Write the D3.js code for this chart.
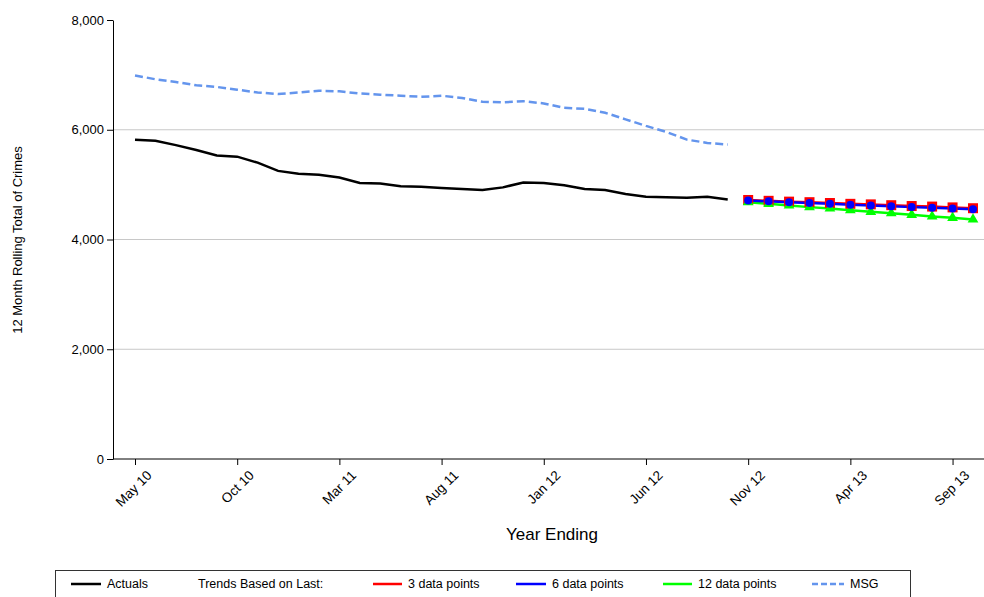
<!DOCTYPE html>
<html><head><meta charset="utf-8">
<script src="https://cdn.jsdelivr.net/npm/d3@7"></script>
<style>body{margin:0;background:#fff}svg{font-family:"Liberation Sans",Arial,sans-serif}</style>
</head><body>
<svg id="c" width="984" height="597"></svg>
<script>
let tickLabels = ["May 10","Oct 10","Mar 11","Aug 11","Jan 12","Jun 12","Nov 12","Apr 13","Sep 13"];
let actuals = [5820,5800,5720,5630,5530,5510,5400,5250,5200,5180,5130,5030,5020,4970,4960,4940,4920,4900,4950,5040,5030,4990,4920,4900,4830,4780,4770,4760,4780,4730];
let msg = [6990,6920,6870,6810,6780,6730,6680,6650,6680,6710,6700,6660,6640,6620,6600,6620,6580,6510,6500,6520,6480,6400,6380,6310,6190,6070,5960,5820,5760,5730];
let trend3 = [4720,4705,4690,4680,4665,4650,4640,4625,4610,4600,4585,4570];
let trend6 = [4710,4695,4680,4665,4650,4635,4620,4605,4590,4580,4565,4550];
let trend12 = [4680,4650,4620,4590,4565,4535,4505,4480,4450,4420,4395,4365];

let svg = d3.select("#c");
let x = d3.scaleLinear().domain([0, 41]).range([135, 973]);
let y = d3.scaleLinear().domain([0, 8000]).range([459, 20]);

// grid
svg.selectAll("line.grid").data([2000,4000,6000]).enter().append("line")
  .attr("x1", 113).attr("x2", 984).attr("y1", d => y(d)).attr("y2", d => y(d))
  .attr("stroke", "#c8c8c8");

let ya = svg.append("g").attr("transform", "translate(113,0)")
  .call(d3.axisLeft(y).tickValues([0,2000,4000,6000,8000]).tickFormat(d3.format(",")).tickSizeOuter(0));
ya.selectAll("text").attr("font-size", 13).attr("fill", "#000");

let xa = svg.append("g").attr("transform", "translate(0,459)")
  .call(d3.axisBottom(x).tickValues(d3.range(0, 41, 5)).tickFormat((d, i) => tickLabels[i]).tickSizeOuter(0));
xa.select(".domain").attr("d", "M113,0H984");
xa.selectAll("text").attr("font-size", 13.5).attr("fill", "#000")
  .attr("text-anchor", "end").attr("transform", "translate(4,4) rotate(-45)");
svg.selectAll(".domain, .tick line").attr("stroke", "#000");

svg.append("text").attr("x", 552).attr("y", 540).attr("text-anchor", "middle")
  .attr("font-size", 17).text("Year Ending");
svg.append("text").attr("transform", "translate(22,240) rotate(-90)").attr("text-anchor", "middle")
  .attr("font-size", 13).text("12 Month Rolling Total of Crimes");

let line = d3.line().x(d => x(d[0])).y(d => y(d[1]));
function draw(vals, off, color, dash, w) {
  svg.append("path").datum(vals.map((v, i) => [i + off, v]))
    .attr("d", line).attr("fill", "none").attr("stroke", color)
    .attr("stroke-width", w).attr("stroke-dasharray", dash);
}
draw(msg, 0, "#6495ed", "8,4", 2.5);
draw(actuals, 0, "#000", null, 2.5);
draw(trend12, 30, "#00ff00", null, 2.5);
draw(trend3, 30, "#ff0000", null, 2.5);
draw(trend6, 30, "#0000ff", null, 2.5);

svg.selectAll("rect.m3").data(trend3).enter().append("rect")
  .attr("x", (d, i) => x(i + 30) - 5).attr("y", d => y(d) - 5)
  .attr("width", 10).attr("height", 10).attr("fill", "#ff0000");
svg.selectAll("path.m12").data(trend12).enter().append("path")
  .attr("d", d3.symbol(d3.symbolTriangle, 50))
  .attr("transform", (d, i) => `translate(${x(i + 30)},${y(d)})`).attr("fill", "#00ff00");
svg.selectAll("circle.m6").data(trend6).enter().append("circle")
  .attr("cx", (d, i) => x(i + 30)).attr("cy", d => y(d)).attr("r", 4).attr("fill", "#0000ff");

// legend
let lg = svg.append("g");
lg.append("rect").attr("x", 55.5).attr("y", 570.5).attr("width", 855).attr("height", 40)
  .attr("fill", "#fff").attr("stroke", "#333");
let items = [
  {x: 71, tx: 107, label: "Actuals", color: "#000"},
  {x: null, tx: 198, label: "Trends Based on Last:", color: null},
  {x: 373, tx: 408, label: "3 data points", color: "#ff0000"},
  {x: 516, tx: 552, label: "6 data points", color: "#0000ff"},
  {x: 663, tx: 698, label: "12 data points", color: "#00ff00"},
  {x: 812, tx: 850, label: "MSG", color: "#6495ed", dash: "6,3"}
];
items.forEach(it => {
  if (it.color) {
    lg.append("line").attr("x1", it.x).attr("x2", it.tx - 6).attr("y1", 584).attr("y2", 584)
      .attr("stroke", it.color).attr("stroke-width", 2.5).attr("stroke-dasharray", it.dash || null);
  }
  lg.append("text").attr("x", it.tx).attr("y", 588).attr("font-size", 12.5).text(it.label);
});
</script>
</body></html>
